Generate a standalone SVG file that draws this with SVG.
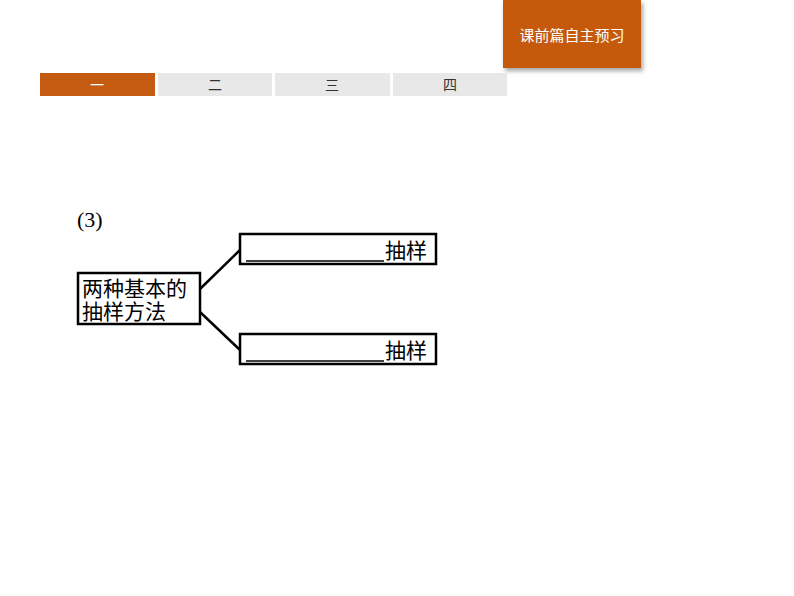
<svg xmlns="http://www.w3.org/2000/svg" width="794" height="596" viewBox="0 0 794 596">
<style>
.cjk{font-family:"Liberation Sans","Noto Sans CJK SC",sans-serif}
.box{fill:#fff;stroke:#000;stroke-width:2.5}
.tab{fill:#e8e8e8}
.tt{font-size:14px;fill:#333;text-anchor:middle}
.nt{font-size:21px;fill:#000}
</style>
<defs><filter id="sh" x="-10%" y="-10%" width="130%" height="140%"><feDropShadow dx="2" dy="3" stdDeviation="2" flood-color="#000" flood-opacity="0.35"/></filter></defs>
<g id="header">
<rect x="503" y="0" width="138" height="68" fill="#c55a11" filter="url(#sh)"/>
<text x="572" y="41" class="cjk" font-size="15" fill="#fff" text-anchor="middle">课前篇自主预习</text>
</g>
<g id="tabs">
<rect x="40" y="73" width="115" height="23" fill="#c55a11"/>
<rect x="158" y="73" width="114" height="23" class="tab"/>
<rect x="275" y="73" width="115" height="23" class="tab"/>
<rect x="393" y="73" width="114" height="23" class="tab"/>
<text x="97" y="90" class="cjk tt" fill="#fff" style="fill:#fff">一</text>
<text x="215" y="90" class="cjk tt">二</text>
<text x="332" y="90" class="cjk tt">三</text>
<text x="450" y="90" class="cjk tt">四</text>
</g>
<text x="77" y="227" font-family="Liberation Serif,serif" font-size="22">(3)</text>
<g id="connectors" stroke="#000" stroke-width="2.5">
<line x1="200" y1="289" x2="240" y2="250"/>
<line x1="200" y1="312" x2="240" y2="350"/>
</g>
<g id="root">
<rect x="78" y="273" width="122" height="51" class="box"/>
<text x="82" y="296" class="cjk nt">两种基本的</text>
<text x="82" y="319" class="cjk nt">抽样方法</text>
</g>
<g id="top">
<rect x="240" y="234" width="196" height="30" class="box"/>
<line x1="246" y1="261" x2="384" y2="261" stroke="#000" stroke-width="1.5"/>
<text x="385" y="258" class="cjk nt">抽样</text>
</g>
<g id="bottom">
<rect x="240" y="334" width="196" height="30" class="box"/>
<line x1="246" y1="361" x2="384" y2="361" stroke="#000" stroke-width="1.5"/>
<text x="385" y="358" class="cjk nt">抽样</text>
</g>
</svg>
